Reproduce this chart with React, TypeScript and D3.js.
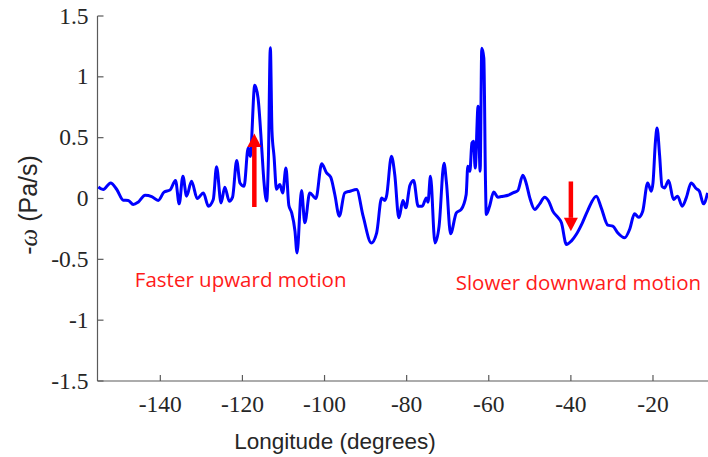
import React from "react";
import * as d3 from "d3";

const longitude = [
  -155.1, -153.9, -152.1, -150.6, -149.0, -147.8, -146.6, -145.4, -143.7, -142.1,
  -140.5, -139.1, -137.6, -136.3, -135.4, -134.5, -133.6, -132.4, -131.0, -129.5,
  -128.3, -127.1, -126.3, -125.2, -124.3, -123.2, -122.4, -121.4, -120.6, -119.6,
  -118.6, -118.1, -117.0, -116.2, -115.3, -114.8, -114.1, -113.7, -113.2, -112.8,
  -112.3, -111.7, -110.9, -110.2, -109.4, -108.7, -108.0, -107.2, -106.7, -105.6,
  -104.8, -103.6, -102.1, -100.7, -99.5, -98.5, -97.5, -96.4, -95.1, -93.8,
  -92.2, -90.6, -88.6, -87.3, -86.1, -85.3, -84.9, -83.7, -82.9, -81.9,
  -80.9, -80.2, -79.2, -78.3, -77.2, -76.2, -75.2, -74.8, -74.2, -73.1,
  -72.1, -70.9, -70.3, -69.3, -67.9, -66.7, -65.5, -65.1, -64.6, -64.1,
  -63.7, -63.3, -62.6, -62.1, -61.7, -61.2, -60.8, -60.6, -59.8, -58.8,
  -57.8, -56.5, -55.3, -54.1, -52.9, -51.7, -50.9, -50.0, -48.8, -47.6,
  -46.4, -45.4, -44.4, -43.2, -42.3, -41.1, -39.9, -38.7, -37.2, -35.9,
  -33.8, -32.6, -31.0, -29.8, -28.6, -26.9, -25.7, -24.5, -23.5, -22.5,
  -21.3, -20.4, -20.0, -19.4, -19.0, -18.4, -17.8, -17.2, -16.2, -15.0,
  -14.0, -12.9, -11.9, -10.7, -9.5, -8.7, -7.7, -6.7,
];

const omega = [
  0.095, 0.074, 0.128, 0.074, -0.014, -0.016, -0.049, -0.03, 0.027, 0.016,
  -0.016, 0.052, 0.071, 0.148, -0.044, 0.183, 0.019, 0.142, 0.0, 0.046,
  -0.063, -0.008, 0.26, -0.036, 0.093, -0.022, 0.011, 0.312, 0.128, 0.101,
  0.415, 0.347, 0.93, 0.826, 0.415, 0.156, -0.02, 0.279, 1.24, 0.553,
  0.347, 0.076, 0.115, 0.046, 0.251, -0.055, -0.118, -0.268, -0.447, 0.066,
  -0.2, 0.046, 0.0, 0.285, 0.21, 0.175, 0.033, -0.145, 0.046, 0.06,
  0.074, -0.145, -0.365, -0.282, 0.005, -0.016, 0.019, 0.347, 0.197, -0.159,
  -0.016, -0.077, 0.109, 0.148, -0.063, -0.063, 0.005, -0.03, 0.183, -0.365,
  -0.227, 0.29, 0.128, -0.29, -0.118, -0.09, 0.033, 0.265, 0.224, 0.456,
  0.47, 0.251, 0.758, 0.224, 1.235, 1.154, 0.142, -0.131, -0.063, 0.054,
  0.011, 0.019, 0.027, 0.046, 0.066, 0.191, 0.128, 0.005, -0.09, -0.044,
  0.011, -0.022, -0.104, -0.154, -0.2, -0.378, -0.35, -0.296, -0.2, -0.099,
  0.019, -0.077, -0.219, -0.227, -0.282, -0.323, -0.255, -0.126, -0.154, -0.104,
  0.128, 0.06, 0.128, 0.47, 0.58, 0.361, 0.1, 0.087, 0.148, -0.008,
  0.019, -0.063, 0.005, 0.128, 0.082, 0.06, -0.044, 0.046,
];

const xTicks = [-140, -120, -100, -80, -60, -40, -20];
const yTicks = [-1.5, -1, -0.5, 0, 0.5, 1, 1.5];

const arrowLon = [-117.1, -40.0];
const arrowFrom = [-0.07, 0.14];
const arrowTo = [0.535, -0.27];

const annotationText = ["Faster upward motion", "Slower downward motion"];
const annotationLon = [-146.2, -68.05];
const annotationVal = [-0.728, -0.755];

const W = 708;
const H = 457;
const left = 97.5;
const right = 708;
const top = 16;
const bottom = 381;

const tickFont = '"Liberation Serif", "DejaVu Serif", serif';
const sansFont = '"Liberation Sans", Arial, Helvetica, sans-serif';
const annFont = '"Open Sans", "Noto Sans", sans-serif';

export default function App() {
  const x = d3.scaleLinear().domain([-155.3, -6.6]).range([left, right]);
  const y = d3.scaleLinear().domain([-1.5, 1.5]).range([bottom, top]);

  const pts = longitude.map((lon, i) => [lon, omega[i]] as [number, number]);
  const line = d3
    .line<[number, number]>()
    .x((d) => x(d[0]))
    .y((d) => y(d[1]))
    .curve(d3.curveMonotoneX);

  const axisColor = "#5a5a5a";

  return (
    <svg
      width={W}
      height={H}
      viewBox={`0 0 ${W} ${H}`}
      style={{ position: "absolute", left: 0, top: 0, display: "block", background: "#fff" }}
    >
      <defs>
        <clipPath id="plotclip">
          <rect x={left} y={0} width={right - left} height={H} />
        </clipPath>
      </defs>

      <line x1={left} x2={left} y1={top} y2={bottom} stroke={axisColor} strokeWidth={1.2} />
      <line x1={left} x2={right} y1={bottom} y2={bottom} stroke={axisColor} strokeWidth={1.2} />

      {yTicks.map((t) => (
        <g key={"y" + t}>
          <line x1={left} x2={left + 6} y1={y(t)} y2={y(t)} stroke={axisColor} strokeWidth={1.2} />
          <text
            x={88.5}
            y={y(t) + 7.5}
            textAnchor="end"
            style={{ fontFamily: tickFont, fontSize: "23.5px" }}
            fill="#262626"
          >
            {String(t)}
          </text>
        </g>
      ))}

      {xTicks.map((t) => (
        <g key={"x" + t}>
          <line x1={x(t)} x2={x(t)} y1={bottom} y2={bottom - 6} stroke={axisColor} strokeWidth={1.2} />
          <text
            x={x(t)}
            y={bottom + 30.5}
            textAnchor="middle"
            style={{ fontFamily: tickFont, fontSize: "23.5px" }}
            fill="#262626"
          >
            {String(t)}
          </text>
        </g>
      ))}

      <text
        x={335}
        y={449}
        textAnchor="middle"
        style={{ fontFamily: sansFont, fontSize: "22.5px" }}
        fill="#262626"
      >
        Longitude (degrees)
      </text>

      <text
        transform={`translate(37,205) rotate(-90)`}
        textAnchor="middle"
        style={{ fontFamily: sansFont, fontSize: "25px" }}
        fill="#262626"
      >
        -<tspan style={{ fontFamily: tickFont, fontStyle: "italic" }}>ω</tspan> (Pa/s)
      </text>

      <g clipPath="url(#plotclip)">
        <path d={line(pts) || ""} fill="none" stroke="#0000ff" strokeWidth={3} strokeLinejoin="round" />
      </g>

      {arrowLon.map((lon, i) => {
        const ax = x(lon);
        const y0 = y(arrowFrom[i]);
        const y1 = y(arrowTo[i]);
        const dir = y1 < y0 ? -1 : 1;
        const headH = 13.5;
        const headW = 7;
        const baseY = y1 - dir * headH;
        return (
          <g key={"a" + i}>
            <line x1={ax} x2={ax} y1={y0} y2={baseY} stroke="#ff0000" strokeWidth={4.5} />
            <path
              d={`M${ax},${y1} L${ax - headW},${baseY} L${ax + headW},${baseY} Z`}
              fill="#ff0000"
            />
          </g>
        );
      })}

      {annotationText.map((t, i) => (
        <text
          key={"t" + i}
          x={x(annotationLon[i])}
          y={y(annotationVal[i])}
          style={{ fontFamily: annFont, fontSize: "20.5px" }}
          fill="#ff1a1a"
        >
          {t}
        </text>
      ))}
    </svg>
  );
}
